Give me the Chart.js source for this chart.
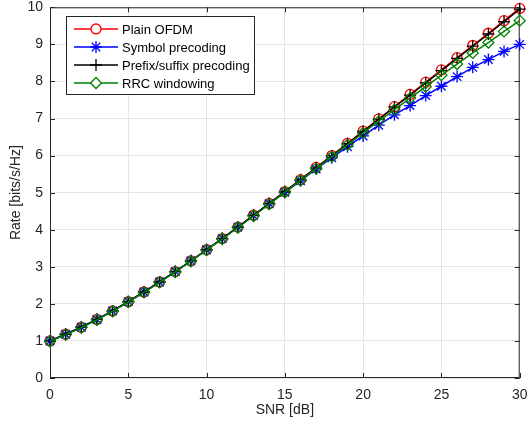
<!DOCTYPE html>
<html>
<head>
<meta charset="utf-8">
<title>Rate vs SNR</title>
<script src="https://cdn.jsdelivr.net/npm/chart.js@4"></script>
<style>
  html, body { margin: 0; padding: 0; background: #ffffff; }
  #wrap { width: 527px; height: 430px; }
</style>
</head>
<body>
<div id="wrap"><canvas id="chartjs-0" width="527" height="430"></canvas></div>
<script>
"use strict";

// values
var snr = [0, 1, 2, 3, 4, 5, 6, 7, 8, 9, 10, 11, 12, 13, 14, 15, 16, 17, 18, 19, 20, 21, 22, 23, 24, 25, 26, 27, 28, 29, 30];
var plainOfdm = [1.00, 1.18, 1.37, 1.58, 1.81, 2.06, 2.32, 2.59, 2.87, 3.16, 3.46, 3.76, 4.07, 4.39, 4.71, 5.03, 5.35, 5.68, 6.00, 6.33, 6.66, 6.99, 7.32, 7.65, 7.98, 8.31, 8.64, 8.97, 9.30, 9.64, 9.97];
var symbolPrecoding = [1.00, 1.18, 1.37, 1.58, 1.81, 2.06, 2.32, 2.59, 2.87, 3.16, 3.46, 3.76, 4.07, 4.38, 4.70, 5.01, 5.32, 5.64, 5.94, 6.24, 6.53, 6.82, 7.10, 7.35, 7.62, 7.87, 8.13, 8.38, 8.59, 8.81, 9.00];
var prefixSuffix = [1.00, 1.18, 1.37, 1.58, 1.81, 2.06, 2.32, 2.59, 2.87, 3.16, 3.46, 3.76, 4.07, 4.39, 4.71, 5.03, 5.35, 5.67, 5.99, 6.32, 6.65, 6.98, 7.31, 7.63, 7.96, 8.29, 8.62, 8.95, 9.28, 9.61, 9.95];
var rrcWindowing = [0.99, 1.17, 1.36, 1.57, 1.80, 2.05, 2.31, 2.58, 2.86, 3.15, 3.45, 3.75, 4.06, 4.37, 4.69, 5.01, 5.33, 5.65, 5.97, 6.29, 6.61, 6.93, 7.24, 7.55, 7.86, 8.17, 8.47, 8.77, 9.05, 9.35, 9.64];

var seriesNames = ["Plain OFDM", "Symbol precoding", "Prefix/suffix precoding", "RRC windowing"];
var seriesColors = ["#ff0000", "#0000ff", "#000000", "#008000"];
var seriesMarkers = ["circle", "star", "cross", "rectRot"];
var markerSizes = [5, 6, 6, 5.5];

var xTicks = [0, 5, 10, 15, 20, 25, 30];
var yTicks = [0, 1, 2, 3, 4, 5, 6, 7, 8, 9, 10];

var axisColor = "#262626";
var fontFamily = "'Liberation Sans', Arial, sans-serif";

function points(ys) {
  var out = [];
  for (var i = 0; i < snr.length; i++) {
    out.push({ x: snr[i], y: ys[i] });
  }
  return out;
}

var allSeries = [plainOfdm, symbolPrecoding, prefixSuffix, rrcWindowing];
var datasets = [];
for (var k = 0; k < allSeries.length; k++) {
  datasets.push({
    label: seriesNames[k],
    data: points(allSeries[k]),
    borderColor: seriesColors[k],
    backgroundColor: "transparent",
    borderWidth: 1.5,
    pointStyle: seriesMarkers[k],
    pointRadius: markerSizes[k],
    pointBorderColor: seriesColors[k],
    pointBackgroundColor: "transparent",
    pointBorderWidth: 1.3,
    tension: 0,
    clip: false,
    // later series on top, like matlab
    order: allSeries.length - k
  });
}

// box, inward ticks and the legend, matlab style
var matlabBits = {
  id: "matlabBits",
  beforeDatasetsDraw: function (chart) {
    var ctx = chart.ctx;
    var a = chart.chartArea;
    var sx = chart.scales.x;
    var sy = chart.scales.y;
    ctx.save();
    ctx.strokeStyle = axisColor;
    ctx.lineWidth = 1;
    ctx.strokeRect(a.left + 0.5, a.top + 0.5, a.right - a.left - 1, a.bottom - a.top - 1);
    ctx.beginPath();
    for (var i = 0; i < xTicks.length; i++) {
      var px = Math.round(sx.getPixelForValue(xTicks[i])) + 0.5;
      ctx.moveTo(px, a.bottom); ctx.lineTo(px, a.bottom - 5);
      ctx.moveTo(px, a.top); ctx.lineTo(px, a.top + 5);
    }
    for (var j = 0; j < yTicks.length; j++) {
      var py = Math.round(sy.getPixelForValue(yTicks[j])) + 0.5;
      ctx.moveTo(a.left, py); ctx.lineTo(a.left + 5, py);
      ctx.moveTo(a.right, py); ctx.lineTo(a.right - 5, py);
    }
    ctx.stroke();
    ctx.restore();
  },
  afterDraw: function (chart) {
    var ctx = chart.ctx;
    ctx.save();
    // legend box
    var bx = 66, by = 16, bw = 188, bh = 78;
    ctx.fillStyle = "#ffffff";
    ctx.fillRect(bx, by, bw, bh);
    ctx.strokeStyle = axisColor;
    ctx.lineWidth = 1;
    ctx.strokeRect(bx + 0.5, by + 0.5, bw, bh);
    ctx.font = "13px " + fontFamily;
    ctx.textBaseline = "middle";
    ctx.textAlign = "left";
    for (var n = 0; n < seriesNames.length; n++) {
      var ly = by + 13 + n * 18;
      ctx.strokeStyle = seriesColors[n];
      ctx.lineWidth = 1.5;
      ctx.beginPath();
      ctx.moveTo(74, ly); ctx.lineTo(118, ly);
      ctx.stroke();
      ctx.lineWidth = 1.3;
      ctx.fillStyle = "#ffffff";
      Chart.helpers.drawPoint(ctx, {
        pointStyle: seriesMarkers[n],
        radius: markerSizes[n],
        borderWidth: 1.3,
        rotation: 0
      }, 96, ly);
      ctx.fillStyle = "#000000";
      ctx.fillText(seriesNames[n], 122, ly + 1);
    }
    ctx.restore();
  }
};

var ctx0 = document.getElementById("chartjs-0");
var myChart = new Chart(ctx0, {
  type: "line",
  data: { datasets: datasets },
  options: {
    responsive: false,
    animation: false,
    layout: { padding: { top: 7, right: 7, left: 0, bottom: 0 } },
    plugins: {
      legend: { display: false },
      tooltip: { enabled: false }
    },
    scales: {
      x: {
        type: "linear",
        min: 0,
        max: 30,
        afterBuildTicks: function (axis) {
          axis.ticks = xTicks.map(function (v) { return { value: v }; });
        },
        afterFit: function (axis) {
          axis.height = 52;
          axis.paddingLeft = 0;
          axis.paddingRight = 0;
        },
        grid: { color: "#e5e5e5", lineWidth: 1, drawTicks: false },
        border: { display: false },
        ticks: {
          color: axisColor,
          padding: 9,
          maxRotation: 0,
          font: { family: fontFamily, size: 14 }
        },
        title: {
          display: true,
          text: "SNR [dB]",
          color: axisColor,
          padding: { top: 0, bottom: 11 },
          font: { family: fontFamily, size: 14 }
        }
      },
      y: {
        type: "linear",
        min: 0,
        max: 10,
        afterBuildTicks: function (axis) {
          axis.ticks = yTicks.map(function (v) { return { value: v }; });
        },
        afterFit: function (axis) {
          axis.width = 50;
          axis.paddingTop = 0;
          axis.paddingBottom = 0;
        },
        grid: { color: "#e5e5e5", lineWidth: 1, drawTicks: false },
        border: { display: false },
        ticks: {
          color: axisColor,
          padding: 7,
          font: { family: fontFamily, size: 14 }
        },
        title: {
          display: true,
          text: "Rate [bits/s/Hz]",
          color: axisColor,
          padding: { top: 8, bottom: 0 },
          font: { family: fontFamily, size: 14 }
        }
      }
    }
  },
  plugins: [matlabBits]
});
</script>
</body>
</html>
